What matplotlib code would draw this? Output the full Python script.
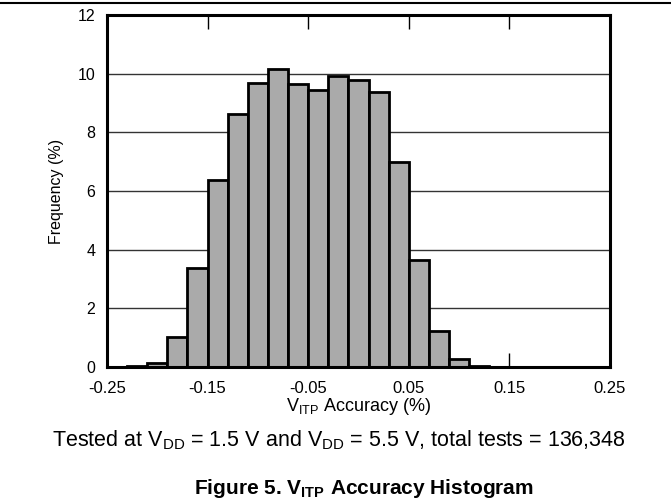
import matplotlib
matplotlib.use("Agg")
import matplotlib.pyplot as plt
from matplotlib.lines import Line2D

plt.rcParams['font.family'] = ['Liberation Sans', 'DejaVu Sans']
plt.rcParams['mathtext.fontset'] = 'custom'
plt.rcParams['mathtext.rm'] = 'Liberation Sans'
plt.rcParams['mathtext.bf'] = 'Liberation Sans:bold'

bin_centers = [-0.24, -0.22, -0.20, -0.18, -0.16, -0.14, -0.12, -0.10, -0.08, -0.06,
               -0.04, -0.02, 0.00, 0.02, 0.04, 0.06, 0.08, 0.10, 0.12, 0.14,
               0.16, 0.18, 0.20, 0.22, 0.24]
frequency = [0.0, 0.02, 0.14, 1.02, 3.37, 6.37, 8.61, 9.68, 10.15, 9.65,
             9.45, 9.91, 9.79, 9.36, 6.98, 3.63, 1.21, 0.27, 0.03, 0.0,
             0.0, 0.0, 0.0, 0.0, 0.0]
bin_width = 0.02
x_ticks = [-0.25, -0.15, -0.05, 0.05, 0.15, 0.25]
x_tick_labels = ['-0.25', '-0.15', '-0.05', '0.05', '0.15', '0.25']
y_ticks = [0, 2, 4, 6, 8, 10, 12]

fig = plt.figure(figsize=(6.71, 5.03), dpi=100)
ax = fig.add_axes([0.1595, 0.2704, 0.7495, 0.7])

ax.set_axisbelow(True)
ax.yaxis.grid(True, color='#333333', linewidth=1.0)
ax.bar(bin_centers, frequency, width=bin_width, color='#aaaaaa',
       edgecolor='black', linewidth=2.0, zorder=2)

ax.set_xlim(-0.25, 0.25)
ax.set_ylim(0, 12)
ax.set_xticks(x_ticks)
ax.set_xticklabels(x_tick_labels)
ax.set_yticks(y_ticks)
ax.tick_params(axis='x', direction='in', top=True, length=10, width=1,
               labelsize=12, pad=10)
ax.tick_params(axis='y', length=0, labelsize=11.5, pad=8.5)
for s in ax.spines.values():
    s.set_linewidth(2.2)
    s.set_zorder(3)

ax.set_ylabel('Frequency (%)', fontsize=11.5, labelpad=10)
ax.set_xlabel(r'V$_\mathregular{ITP}$ Accuracy (%)', fontsize=13, labelpad=0)

fig.text(339 / 671, 1 - 446 / 503,
         r'Tested at V$_\mathregular{DD}$ = 1.5 V and V$_\mathregular{DD}$ = 5.5 V, total tests = 136,348',
         ha='center', va='baseline', fontsize=15.5)
fig.text(363.5 / 671, 1 - 494 / 503,
         r'Figure 5. V$_\mathbf{ITP}$ Accuracy Histogram',
         ha='center', va='baseline', fontsize=15, fontweight='bold')

fig.add_artist(Line2D([0, 1], [1 - 2.5 / 503, 1 - 2.5 / 503], color='black',
                      linewidth=1.5, transform=fig.transFigure))

fig.savefig('out.png', dpi=100)
